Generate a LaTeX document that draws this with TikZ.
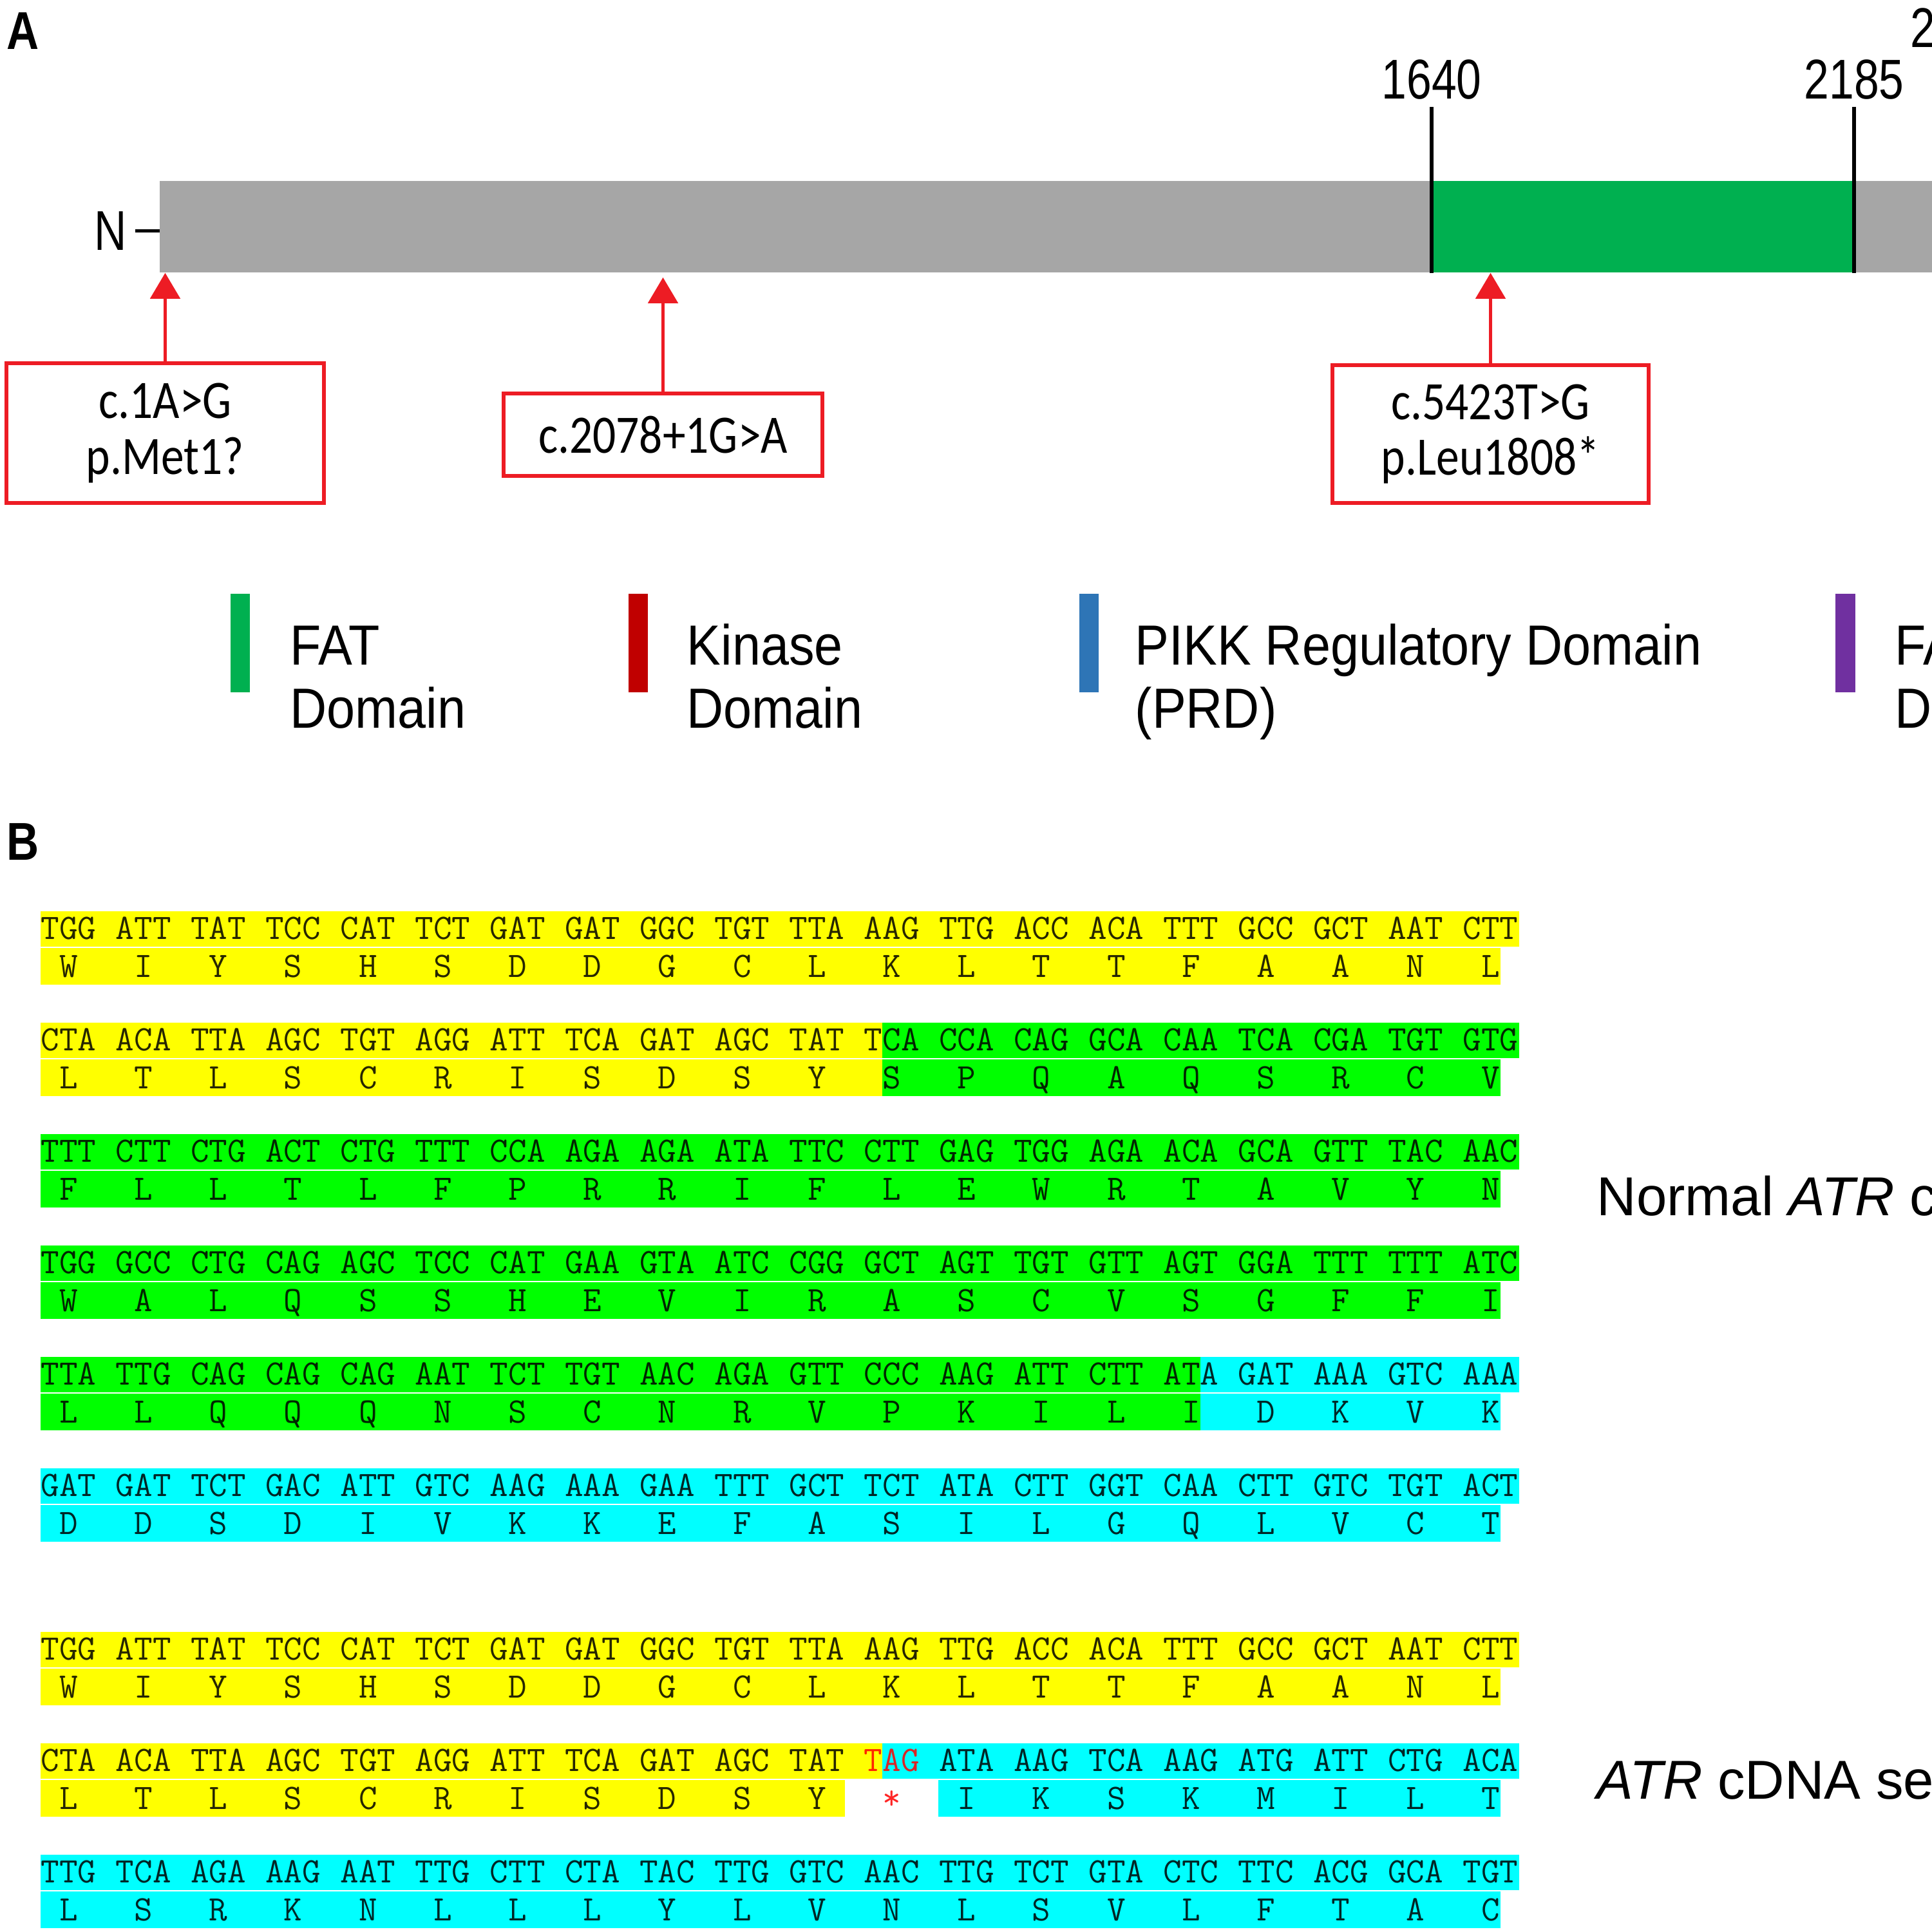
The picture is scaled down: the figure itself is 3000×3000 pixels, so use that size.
\documentclass[tikz,border=0pt]{standalone}
\usepackage{fontspec}
\setmainfont{Liberation Sans}
\newfontfamily\numfont[FakeStretch=0.8]{Liberation Sans}
\newfontfamily\labfont[FakeStretch=0.84]{Liberation Sans}
\newfontfamily\boxfont[FakeStretch=0.85]{Carlito}
\newfontfamily\legfont[FakeStretch=0.9]{Liberation Sans}
\newfontfamily\rlfont{Liberation Sans}
\newcommand\seqfont{\ttfamily\addfontfeature{FakeBold=0.8}}
\usetikzlibrary{arrows.meta}
\definecolor{barGray}{RGB}{166,166,166}
\definecolor{fatGreen}{RGB}{0,176,80}
\definecolor{mutRed}{RGB}{237,28,36}
\definecolor{kinRed}{RGB}{192,0,0}
\definecolor{prdBlue}{RGB}{46,117,182}
\definecolor{fatcPurple}{RGB}{112,48,160}
\definecolor{hlYellow}{RGB}{255,255,0}
\definecolor{hlGreen}{RGB}{0,255,0}
\definecolor{hlCyan}{RGB}{0,255,255}
\newcommand\cband[4]{\fill[#4] (#1,#3-26) rectangle (#2,#3+29);}
\newcommand\aband[4]{\fill[#4] (#1,#3+31) rectangle (#2,#3+88);}
\newcommand\codons[3]{\foreach \t [count=\k from 0] in {#3} {\node[seqtxt] (c#1-\k) at ({106.6+116.2*\k},#2+17) {\t};}}
\newcommand\aminos[3]{\foreach \t [count=\k from 0] in {#3} {\node[seqtxt] (a#1-\k) at ({106.6+116.2*\k},#2+76) {\t};}}
\begin{document}
\begin{tikzpicture}[x=0.01cm,y=-0.01cm,
  seqtxt/.style={anchor=base,inner sep=0pt,font=\seqfont\fontsize{15.8}{15.8}\selectfont,text=black,text opacity=0.85},
  numlab/.style={anchor=base,inner sep=0pt,font=\numfont\fontsize{24.75}{24.75}\selectfont},
  panel/.style={anchor=base west,inner sep=0pt,font=\labfont\bfseries\fontsize{23.5}{23.5}\selectfont},
  mutbox/.style={draw=mutRed,line width=0.06cm,fill=white,inner sep=0pt,align=center,font=\boxfont\fontsize{23.9}{24.5}\selectfont},
  mutarrow/.style={draw=mutRed,line width=0.05cm,-{Triangle[width=0.46cm,length=0.40cm]}},
  legtxt/.style={anchor=base west,inner sep=0pt,font=\legfont\fontsize{25}{25}\selectfont},
  sidetxt/.style={anchor=base west,inner sep=0pt,font=\rlfont\fontsize{24.2}{24.2}\selectfont},
  tick/.style={line width=0.055cm,black},
  protbar/.style={fill=barGray,draw=none,inner sep=0pt,minimum width=27.61cm,minimum height=1.42cm},
]
\useasboundingbox (0,0) rectangle (3000,3000);
\clip (0,0) rectangle (3000,3000);
% ---------- panel A ----------
\node[panel] (labA) at (10,77) {A};
\node[protbar] (bar) at (1629.5,352) {};
\fill[fatGreen] (2223,281) rectangle (2879,423);
\coordinate (t1) at (2223,166);
\coordinate (t2) at (2879,166);
\draw[tick] (t1) -- (t1 |- bar.south);
\draw[tick] (t2) -- (t2 |- bar.south);
\node[numlab] (n1640) at (2223,153) {1640};
\node[numlab] (n2185) at (2879,153) {2185};
\node[numlab,anchor=base west] (n2x) at (2966,74) {2};
\node[numlab] (Nlab) at (172,388) {N};
\draw[line width=0.05cm] ([xshift=0.12cm]Nlab.east) -- (Nlab.east -| bar.west);
\node[mutbox,minimum width=4.93cm,minimum height=2.17cm] (b1) at (256.5,672.5) {c.1A>G\\p.Met1?};
\node[mutbox,minimum width=4.95cm,minimum height=1.28cm] (b2) at (1029.5,675) {c.2078+1G>A};
\node[mutbox,minimum width=4.91cm,minimum height=2.14cm] (b3) at (2314.5,674) {c.5423T>G\\p.Leu1808*};
\draw[mutarrow] (b1.north) -- (b1.north |- bar.south);
\draw[mutarrow] (b2.north) -- ([yshift=-0.07cm]b2.north |- bar.south);
\draw[mutarrow] (b3.north) -- (b3.north |- bar.south);
% legend
\fill[fatGreen] (358,922) rectangle (388,1075);
\node[legtxt] (l1a) at (450,1032) {FAT};
\node[legtxt] (l1b) at (450,1130) {Domain};
\fill[kinRed] (976,922) rectangle (1006,1075);
\node[legtxt] (l2a) at (1066,1032) {Kinase};
\node[legtxt] (l2b) at (1066,1130) {Domain};
\fill[prdBlue] (1676,922) rectangle (1706,1075);
\node[legtxt] (l3a) at (1762,1032) {PIKK Regulatory Domain};
\node[legtxt] (l3b) at (1762,1130) {(PRD)};
\fill[fatcPurple] (2850,922) rectangle (2881,1075);
\node[legtxt] (l4a) at (2942,1032) {FA};
\node[legtxt] (l4b) at (2942,1130) {D};
% ---------- panel B ----------
\node[panel] (labB) at (10,1335) {B};
% row 1
\cband{63}{2359}{1441}{hlYellow}\aband{63}{2330}{1441}{hlYellow}
% row 2
\cband{63}{1370}{1614}{hlYellow}\cband{1370}{2359}{1614}{hlGreen}
\aband{63}{1370}{1614}{hlYellow}\aband{1370}{2330}{1614}{hlGreen}
% row 3, 4
\cband{63}{2359}{1787}{hlGreen}\aband{63}{2330}{1787}{hlGreen}
\cband{63}{2359}{1960}{hlGreen}\aband{63}{2330}{1960}{hlGreen}
% row 5
\cband{63}{1864}{2133}{hlGreen}\cband{1864}{2359}{2133}{hlCyan}
\aband{63}{1864}{2133}{hlGreen}\aband{1864}{2330}{2133}{hlCyan}
% row 6
\cband{63}{2359}{2306}{hlCyan}\aband{63}{2330}{2306}{hlCyan}
% row 7
\cband{63}{2359}{2560}{hlYellow}\aband{63}{2330}{2560}{hlYellow}
% row 8
\cband{63}{1370}{2733}{hlYellow}\cband{1370}{2359}{2733}{hlCyan}
\aband{63}{1312}{2733}{hlYellow}\aband{1457}{2330}{2733}{hlCyan}
% row 9
\cband{63}{2359}{2906}{hlCyan}\aband{63}{2330}{2906}{hlCyan}
% texts
\codons{1}{1441}{TGG,ATT,TAT,TCC,CAT,TCT,GAT,GAT,GGC,TGT,TTA,AAG,TTG,ACC,ACA,TTT,GCC,GCT,AAT,CTT}
\aminos{1}{1441}{W,I,Y,S,H,S,D,D,G,C,L,K,L,T,T,F,A,A,N,L}
\codons{2}{1614}{CTA,ACA,TTA,AGC,TGT,AGG,ATT,TCA,GAT,AGC,TAT,TCA,CCA,CAG,GCA,CAA,TCA,CGA,TGT,GTG}
\aminos{2}{1614}{L,T,L,S,C,R,I,S,D,S,Y,S,P,Q,A,Q,S,R,C,V}
\codons{3}{1787}{TTT,CTT,CTG,ACT,CTG,TTT,CCA,AGA,AGA,ATA,TTC,CTT,GAG,TGG,AGA,ACA,GCA,GTT,TAC,AAC}
\aminos{3}{1787}{F,L,L,T,L,F,P,R,R,I,F,L,E,W,R,T,A,V,Y,N}
\codons{4}{1960}{TGG,GCC,CTG,CAG,AGC,TCC,CAT,GAA,GTA,ATC,CGG,GCT,AGT,TGT,GTT,AGT,GGA,TTT,TTT,ATC}
\aminos{4}{1960}{W,A,L,Q,S,S,H,E,V,I,R,A,S,C,V,S,G,F,F,I}
\codons{5}{2133}{TTA,TTG,CAG,CAG,CAG,AAT,TCT,TGT,AAC,AGA,GTT,CCC,AAG,ATT,CTT,ATA,GAT,AAA,GTC,AAA}
\aminos{5}{2133}{L,L,Q,Q,Q,N,S,C,N,R,V,P,K,I,L,I,D,K,V,K}
\codons{6}{2306}{GAT,GAT,TCT,GAC,ATT,GTC,AAG,AAA,GAA,TTT,GCT,TCT,ATA,CTT,GGT,CAA,CTT,GTC,TGT,ACT}
\aminos{6}{2306}{D,D,S,D,I,V,K,K,E,F,A,S,I,L,G,Q,L,V,C,T}
\codons{7}{2560}{TGG,ATT,TAT,TCC,CAT,TCT,GAT,GAT,GGC,TGT,TTA,AAG,TTG,ACC,ACA,TTT,GCC,GCT,AAT,CTT}
\aminos{7}{2560}{W,I,Y,S,H,S,D,D,G,C,L,K,L,T,T,F,A,A,N,L}
\codons{8}{2733}{CTA,ACA,TTA,AGC,TGT,AGG,ATT,TCA,GAT,AGC,TAT,\textcolor{red}{TAG},ATA,AAG,TCA,AAG,ATG,ATT,CTG,ACA}
\aminos{8}{2733}{L,T,L,S,C,R,I,S,D,S,Y,\textcolor{red}{*},I,K,S,K,M,I,L,T}
\codons{9}{2906}{TTG,TCA,AGA,AAG,AAT,TTG,CTT,CTA,TAC,TTG,GTC,AAC,TTG,TCT,GTA,CTC,TTC,ACG,GCA,TGT}
\aminos{9}{2906}{L,S,R,K,N,L,L,L,Y,L,V,N,L,S,V,L,F,T,A,C}
\node[sidetxt] (normal) at (2479,1887) {Normal \textit{ATR} c};
\node[sidetxt] (mutant) at (2479,2793) {\textit{ATR} cDNA se};
\end{tikzpicture}
\end{document}
